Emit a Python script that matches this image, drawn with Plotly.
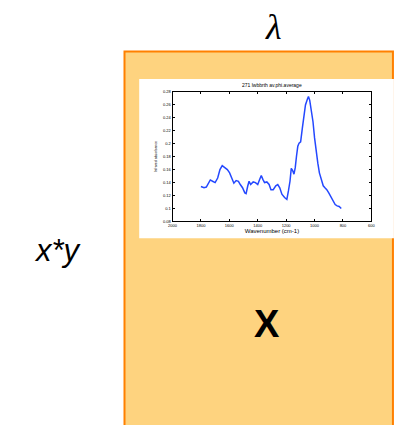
import plotly.graph_objects as go

# Averaged IR spectrum shown in the inset
wavenumber = [1800, 1778, 1762, 1745, 1734, 1718, 1700, 1682, 1666, 1650, 1632, 1614,
              1598, 1582, 1568, 1552, 1536, 1523, 1507, 1491, 1482, 1470, 1461, 1450,
              1432, 1416, 1400, 1386, 1375, 1364, 1352, 1336, 1320, 1307, 1291, 1273,
              1259, 1245, 1230, 1211, 1195, 1184, 1173, 1164, 1155, 1145, 1136, 1127,
              1118, 1109, 1098, 1086, 1075, 1064, 1050, 1043, 1034, 1023, 1011, 1000,
              989, 977, 966, 950, 939, 927, 914, 900, 886, 870, 855, 841, 827, 812]
absorbance = [0.134, 0.132, 0.133, 0.140, 0.144, 0.142, 0.140, 0.147, 0.160, 0.166, 0.163, 0.160,
              0.155, 0.145, 0.139, 0.143, 0.142, 0.137, 0.132, 0.124, 0.123, 0.135, 0.142, 0.137,
              0.141, 0.140, 0.137, 0.145, 0.151, 0.145, 0.140, 0.141, 0.137, 0.129, 0.129, 0.135,
              0.137, 0.132, 0.122, 0.117, 0.114, 0.127, 0.142, 0.162, 0.159, 0.153, 0.163, 0.181,
              0.196, 0.201, 0.203, 0.224, 0.244, 0.260, 0.269, 0.273, 0.267, 0.254, 0.234, 0.209,
              0.188, 0.170, 0.155, 0.142, 0.135, 0.132, 0.129, 0.124, 0.118, 0.111, 0.106, 0.104,
              0.103, 0.100]

x_ticks = [2000, 1800, 1600, 1400, 1200, 1000, 800, 600]
y_ticks = [0.08, 0.1, 0.12, 0.14, 0.16, 0.18, 0.2, 0.22, 0.24, 0.26, 0.28]

inset_title = "271 lwbbrth av.phi.average"
x_title = "Wavenumber (cm-1)"
y_title = "Infrared absorbance"

W, H = 394, 425


def px(x):
    return x / W


def py(y):
    return 1 - y / H


fig = go.Figure()
fig.add_trace(go.Scatter(x=wavenumber, y=absorbance, mode="lines",
                         line=dict(color="#2448ff", width=1.5), showlegend=False))

axis_common = dict(showline=True, linecolor="black", linewidth=1, mirror="ticks",
                   ticks="inside", ticklen=2, tickcolor="black", showgrid=False,
                   zeroline=False, tickfont=dict(family="Arial Black, Arial", size=4, color="black"))

fig.update_layout(
    width=W, height=H,
    margin=dict(l=0, r=0, t=0, b=0),
    paper_bgcolor="white", plot_bgcolor="white",
    xaxis=dict(domain=[px(172), px(375)], range=[2000, 600], tickvals=x_ticks,
               ticktext=[str(v) for v in x_ticks],
               title=dict(text=x_title, font=dict(family="Arial Black, Arial", size=6, color="black"), standoff=1),
               **axis_common),
    yaxis=dict(domain=[py(221), py(90)], range=[0.08, 0.28], tickvals=y_ticks,
               title=dict(text=y_title, font=dict(family="Arial Black, Arial", size=3.5, color="black"), standoff=5),
               **axis_common),
    shapes=[
        dict(type="rect", xref="paper", yref="paper", layer="below",
             x0=px(123), x1=px(397), y0=py(440), y1=py(49),
             fillcolor="#fed37f", line=dict(color="#ff8000", width=2)),
        dict(type="rect", xref="paper", yref="paper", layer="below",
             x0=px(138), x1=px(398), y0=py(238), y1=py(77),
             fillcolor="white", line=dict(width=0)),
    ],
    annotations=[
        dict(text=inset_title, xref="paper", yref="paper", x=px(274), y=py(83),
             xanchor="center", yanchor="middle",
             showarrow=False, font=dict(family="Arial Black, Arial", size=5, color="black")),
        dict(text="<i>λ</i>", xref="paper", yref="paper", x=px(275), y=py(24),
             xanchor="center", yanchor="middle",
             showarrow=False, font=dict(family="Liberation Serif", size=36, color="black")),
        dict(text="<i>x*y</i>", xref="paper", yref="paper", x=px(55), y=py(250),
             xanchor="center", yanchor="middle",
             showarrow=False, font=dict(family="Liberation Sans, Arial", size=31, color="black")),
        dict(text="<b>X</b>", xref="paper", yref="paper", x=px(268), y=py(325),
             xanchor="center", yanchor="middle",
             showarrow=False, font=dict(family="Liberation Sans, Arial", size=38, color="black")),
    ],
)

fig.write_html("out.html")
